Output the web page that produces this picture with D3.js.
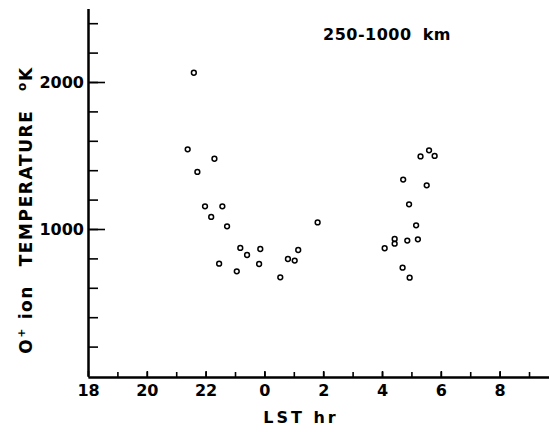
<!DOCTYPE html>
<html><head>
<script src="https://d3js.org/d3.v7.min.js"></script>
<style>
  body { margin: 0; background: #fff; }
  text { font-family: "DejaVu Sans", sans-serif; font-weight: bold; fill: #000; }
</style>
</head>
<body>
<svg id="chart" width="549" height="433"></svg>
<script>
  // local solar time (hr) and O+ ion temperature (K)
  const lst = [21.60, 21.39, 22.30, 21.72, 21.98, 22.57, 22.19, 22.73, 1.81, 23.18,
               23.86, 23.41, 1.15, 22.46, 23.82, 0.80, 1.03, 23.06, 0.54,
               5.31, 5.60, 5.79, 4.72, 5.52, 4.92, 5.16, 4.43, 4.43, 4.86,
               5.22, 4.09, 4.70, 4.94];
  const temp = [2063, 1542, 1478, 1388, 1154, 1154, 1082, 1018, 1045, 871,
                864, 823, 857, 764, 762, 796, 785, 712, 671,
                1494, 1535, 1497, 1336, 1297, 1168, 1025, 932, 900, 921,
                930, 869, 737, 669];
  const xLabelTicks = [18, 20, 22, 24, 26, 28, 30, 32];
  const yLabelTicks = [1000, 2000];

  const svg = d3.select("#chart");

  // hours after midnight continue past 24
  const unwrap = h => h < 12 ? h + 24 : h;

  const x = d3.scaleLinear().domain([18, 33.7]).range([88, 549.6]);
  const y = d3.scaleLinear().domain([0, 2500]).range([376, 8.5]);

  // y axis: minor ticks every 200, longer ticks at 1000 / 2000
  const yMinor = svg.append("g").attr("transform", "translate(88,0)")
    .call(d3.axisLeft(y).tickValues(d3.range(200, 2500, 200)).tickSizeInner(-10).tickSizeOuter(0).tickFormat(""));
  const yMajor = svg.append("g").attr("transform", "translate(88,0)")
    .call(d3.axisLeft(y).tickValues(yLabelTicks).tickSizeInner(-17).tickSizeOuter(0).tickPadding(4)
      .tickFormat(d3.format("d")));
  yMajor.selectAll("text").attr("font-size", 16).attr("dy", "0.36em");

  // x axis: ticks every hour pointing up
  const xMinor = svg.append("g").attr("transform", "translate(0,377)")
    .call(d3.axisBottom(x).tickValues(d3.range(19, 34)).tickSizeInner(-5).tickSizeOuter(0).tickFormat(""));
  const xMajor = svg.append("g").attr("transform", "translate(0,377)")
    .call(d3.axisBottom(x).tickValues(xLabelTicks).tickSizeInner(-6).tickSizeOuter(0).tickPadding(8)
      .tickFormat(d => d % 24));
  xMajor.selectAll("text").attr("font-size", 16);

  svg.selectAll(".domain").attr("stroke", "#000").attr("stroke-width", 2);
  svg.selectAll(".tick line").attr("stroke", "#000").attr("stroke-width", 1.6);

  // data points
  svg.append("g").selectAll("circle")
    .data(lst.map((h, i) => ({h: unwrap(h), t: temp[i]})))
    .join("circle")
    .attr("cx", d => x(d.h))
    .attr("cy", d => y(d.t))
    .attr("r", 2.4)
    .attr("fill", "none")
    .attr("stroke", "#000")
    .attr("stroke-width", 1.5);

  // labels
  svg.append("text").attr("x", 301).attr("y", 423).attr("text-anchor", "middle")
    .attr("font-size", 16).attr("letter-spacing", 3).text("LST hr");

  svg.append("text").attr("x", 387).attr("y", 40).attr("text-anchor", "middle")
    .attr("font-size", 16).attr("letter-spacing", 0.5).attr("word-spacing", 5).text("250-1000 km");

  const yl = svg.append("text")
    .attr("transform", "translate(32,210) rotate(-90)")
    .attr("text-anchor", "middle").attr("font-size", 17).attr("letter-spacing", 1.6);
  yl.append("tspan").text("O");
  yl.append("tspan").attr("dy", -7).attr("font-size", 11).text("+");
  yl.append("tspan").attr("dy", 7).text(" ion\u2003TEMPERATURE\u2003");
  yl.append("tspan").attr("dy", -6).attr("font-size", 12).text("o");
  yl.append("tspan").attr("dy", 6).text("K");
</script>
</body>
</html>
